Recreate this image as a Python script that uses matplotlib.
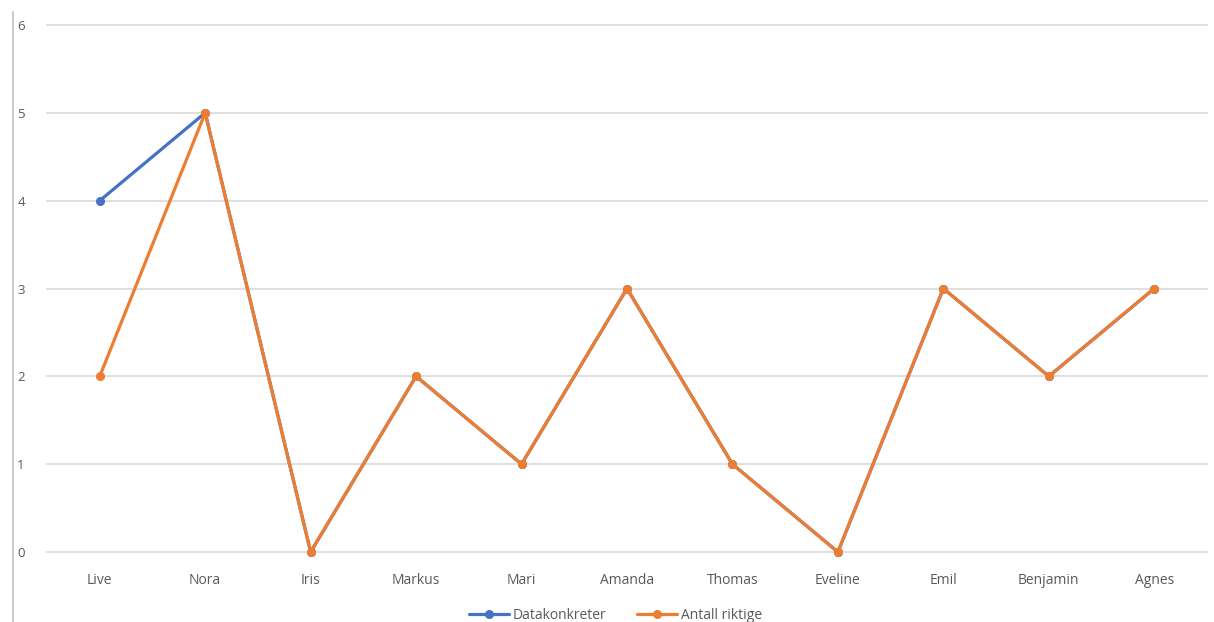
import matplotlib
matplotlib.use("Agg")
import matplotlib.pyplot as plt
from matplotlib.lines import Line2D

categories = ["Live", "Nora", "Iris", "Markus", "Mari", "Amanda", "Thomas",
              "Eveline", "Emil", "Benjamin", "Agnes"]
datakonkreter = [4, 5, 0, 2, 1, 3, 1, 0, 3, 2, 3]
antall_riktige = [2, 5, 0, 2, 1, 3, 1, 0, 3, 2, 3]
yticks = [0, 1, 2, 3, 4, 5, 6]

plt.rcParams['font.family'] = ['Open Sans', 'DejaVu Sans']

W, H = 1214, 622
fig = plt.figure(figsize=(W / 100, H / 100), dpi=100)
ax = fig.add_axes([47 / W, (H - 552) / H, (1207 - 47) / W, (552 - 25) / H])

x = list(range(len(categories)))
ax.plot(x, datakonkreter, color="#4472C4", lw=2.3, marker="o", ms=5.5,
        label="Datakonkreter", zorder=3, solid_capstyle="round", clip_on=False)
ax.plot(x, antall_riktige, color="#ED7D31", lw=2.3, marker="o", ms=5.5,
        label="Antall riktige", zorder=4, solid_capstyle="round", clip_on=False)

ax.set_xlim(-0.5, len(categories) - 0.5)
ax.set_ylim(0, 6)
ax.set_yticks(yticks)
ax.set_xticks(x)
ax.set_xticklabels(categories)
ax.yaxis.grid(True, color="#D9D9D9", lw=1.2)
for gl in ax.get_ygridlines():
    gl.set_clip_on(False)
ax.set_axisbelow(True)
for s in ax.spines.values():
    s.set_visible(False)
ax.tick_params(axis="both", length=0, labelsize=9.5, colors="#595959")
ax.tick_params(axis="x", pad=15, labelsize=10)
ax.tick_params(axis="y", pad=16)

leg = ax.legend(loc="upper center", bbox_to_anchor=(0.49, -0.082), ncol=2,
                frameon=False, fontsize=10, handlelength=2.9, columnspacing=2.2,
                handletextpad=0.25)
for t in leg.get_texts():
    t.set_color("#595959")

fig.add_artist(Line2D([13 / W, 13 / W], [0, 1 - 12 / H], color="#BFBFBF", lw=1.2))

fig.savefig("out.png", dpi=100, facecolor="white")
